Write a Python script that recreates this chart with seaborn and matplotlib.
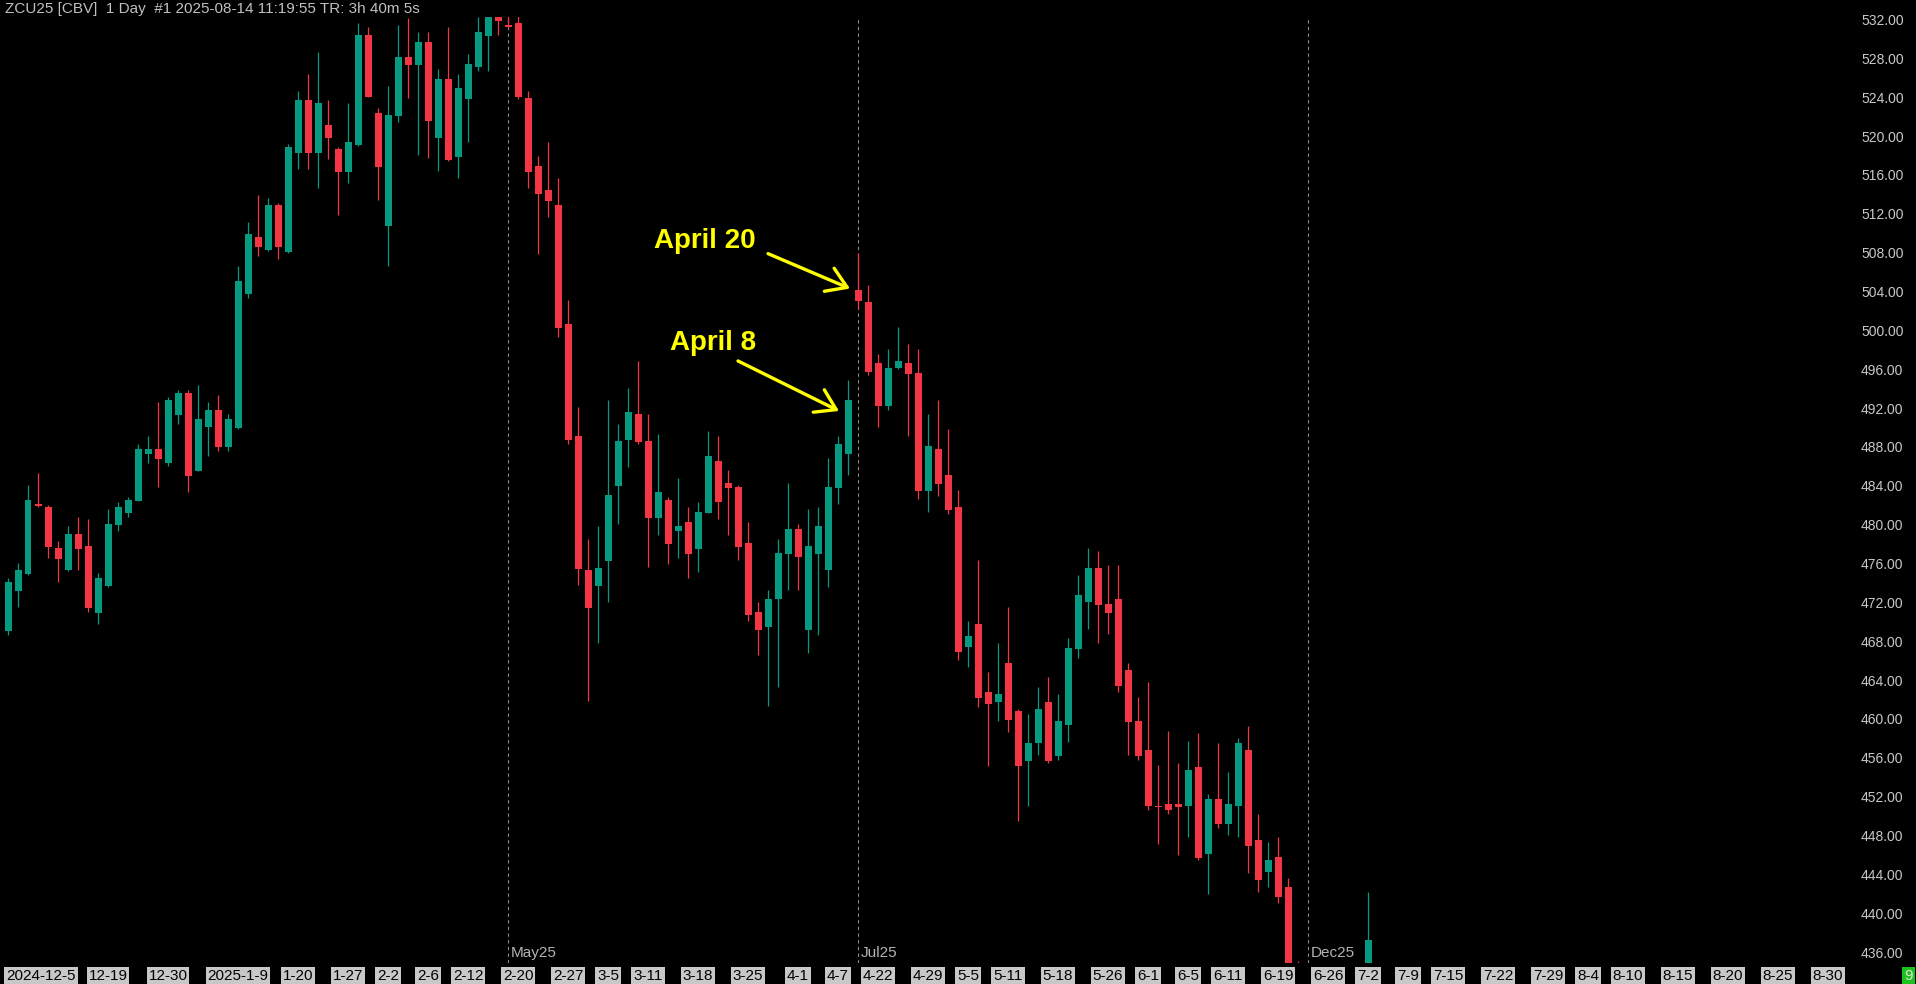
import numpy as np
import pandas as pd
import matplotlib
matplotlib.use('Agg')
import matplotlib.pyplot as plt
import matplotlib.transforms as mtransforms
import seaborn as sns

# daily candles ZCU25, one row per session (index 0 = 2024-12-5)
opens = [469.0, 473.2, 474.9, 482.1, 481.8, 477.6, 475.3, 479.0, 477.8, 470.9,
         473.7, 480.0, 481.2, 482.4, 487.3, 487.8, 486.3, 491.3, 493.5, 485.5,
         490.0, 491.8, 488.0, 489.95, 503.7, 509.6, 508.3, 512.9, 508.1, 518.3,
         523.7, 518.3, 521.1, 518.7, 516.3, 519.1, 530.4, 522.4, 510.75, 522.1,
         528.1, 527.3, 529.7, 519.8, 525.9, 517.85, 523.8, 527.1, 530.3, 532.5,
         531.4, 531.6, 523.9, 516.9, 514.45, 512.9, 500.7, 489.1, 475.3, 473.7,
         476.25, 484.0, 488.7, 491.4, 488.6, 480.7, 482.5, 479.3, 480.3, 477.5,
         481.2, 486.55, 484.3, 483.9, 478.1, 471.0, 469.5, 472.3, 477.0, 479.55,
         469.2, 477.0, 475.3, 483.8, 487.3, 504.15, 502.9, 496.65, 492.25, 496.1,
         496.65, 495.6, 483.5, 487.8, 485.1, 481.8, 467.4, 469.8, 462.8, 461.7,
         465.8, 460.8, 455.7, 457.5, 461.7, 456.2, 459.4, 467.2, 472.0, 475.55,
         471.8, 472.35, 465.0, 459.8, 456.8, 451.05, 451.25, 451.25, 451.0, 455.05,
         446.1, 451.8, 449.2, 451.0, 456.8, 447.5, 444.2, 445.8, 442.7, 432.0,
         430.0, 427.5, 429.0, 428.0, 430.5, 432.0, 433.5]
highs = [474.5, 476.0, 484.1, 485.3, 482.0, 478.3, 479.85, 480.8, 480.6, 475.0,
         481.6, 482.3, 482.8, 488.3, 489.1, 492.6, 493.1, 493.9, 493.9, 494.4,
         492.6, 493.35, 491.4, 506.6, 511.2, 513.9, 513.6, 513.1, 519.2, 524.65,
         526.4, 528.7, 523.7, 518.9, 523.4, 531.6, 531.2, 522.9, 525.2, 531.4,
         532.2, 530.7, 530.7, 526.9, 531.2, 526.4, 528.45, 532.3, 534.0, 533.0,
         532.5, 532.4, 524.65, 517.95, 519.4, 515.7, 503.1, 492.1, 478.5, 479.85,
         492.8, 490.4, 494.1, 496.85, 491.4, 489.3, 482.85, 484.8, 481.8, 482.3,
         489.6, 489.1, 485.6, 484.1, 480.3, 472.0, 473.3, 478.5, 484.3, 480.1,
         481.6, 481.8, 486.9, 489.1, 494.9, 508.0, 504.7, 497.6, 498.1, 500.3,
         498.6, 498.1, 491.4, 492.8, 489.85, 483.6, 470.1, 476.4, 464.8, 467.8,
         471.5, 461.0, 460.5, 463.3, 464.3, 462.6, 468.3, 474.8, 477.6, 477.3,
         475.85, 475.85, 465.8, 462.3, 463.8, 455.3, 458.8, 455.5, 457.7, 458.55,
         452.3, 457.5, 454.5, 458.0, 459.3, 450.2, 447.3, 447.8, 443.6, 435.1,
         433.0, 431.0, 432.5, 431.5, 434.0, 434.5, 442.2]
lows = [468.6, 471.55, 474.8, 481.8, 476.6, 474.1, 475.2, 475.3, 471.0, 469.8,
        473.6, 479.3, 480.8, 482.4, 486.3, 483.9, 486.05, 490.35, 483.4, 485.5,
        487.1, 487.6, 487.6, 489.85, 503.3, 507.65, 508.2, 507.3, 508.0, 516.6,
        516.6, 514.65, 517.65, 511.9, 515.2, 519.0, 524.0, 513.4, 506.6, 521.5,
        523.9, 518.1, 517.7, 516.4, 517.4, 515.7, 519.4, 526.7, 526.7, 530.4,
        531.1, 523.8, 514.65, 507.9, 511.7, 499.3, 488.3, 473.8, 461.8, 467.8,
        472.0, 480.06, 485.9, 488.3, 475.6, 478.9, 475.9, 476.6, 474.5, 475.1,
        481.2, 480.6, 478.9, 476.4, 470.1, 466.6, 461.3, 463.3, 473.3, 473.3,
        466.8, 468.6, 473.6, 482.1, 485.15, 502.2, 495.4, 490.1, 491.8, 496.0,
        489.15, 482.6, 481.3, 482.9, 481.1, 466.1, 465.3, 461.25, 455.1, 459.8,
        458.6, 449.5, 451.0, 456.3, 455.5, 455.8, 457.6, 466.3, 469.3, 467.85,
        468.7, 462.8, 456.3, 455.8, 450.6, 447.1, 450.25, 446.0, 447.8, 445.5,
        442.0, 448.8, 448.0, 447.8, 444.1, 442.2, 442.7, 441.0, 430.0, 428.5,
        426.0, 425.0, 426.5, 425.5, 428.0, 429.5, 432.5]
closes = [474.1, 475.3, 482.5, 481.9, 477.7, 476.5, 479.0, 477.5, 471.4, 474.5,
          480.1, 481.8, 482.5, 487.8, 487.8, 486.8, 492.8, 493.5, 485.0, 490.9,
          491.8, 488.0, 490.9, 505.1, 509.9, 508.6, 512.9, 508.6, 518.9, 523.7,
          518.3, 523.4, 519.8, 516.3, 519.4, 530.4, 524.0, 516.8, 522.2, 528.1,
          527.3, 529.7, 521.55, 525.9, 517.5, 524.96, 527.4, 530.7, 533.0, 531.85,
          531.2, 524.0, 516.3, 514.0, 513.3, 500.25, 488.7, 475.4, 471.45, 475.5,
          483.05, 488.6, 491.6, 488.5, 480.7, 483.4, 478.0, 479.9, 477.0, 481.3,
          487.1, 482.3, 483.8, 477.7, 470.7, 469.2, 472.35, 477.1, 479.55, 476.7,
          477.8, 479.9, 483.9, 488.3, 492.8, 503.05, 495.7, 492.25, 496.1, 496.8,
          495.55, 483.5, 488.1, 484.2, 481.5, 466.9, 468.5, 462.2, 461.5, 462.6,
          459.9, 455.2, 457.5, 461.0, 455.7, 459.8, 467.3, 472.8, 475.55, 471.76,
          470.9, 463.4, 459.7, 456.2, 451.0, 450.95, 450.65, 450.95, 454.7, 445.7,
          451.8, 449.2, 451.2, 457.5, 446.95, 443.45, 445.5, 441.7, 432.0, 430.0,
          427.5, 429.0, 428.0, 430.5, 432.0, 433.5, 437.2]

date_labels = ['2024-12-5', '12-19', '12-30', '2025-1-9', '1-20', '1-27', '2-2', '2-6',
               '2-12', '2-20', '2-27', '3-5', '3-11', '3-18', '3-25', '4-1', '4-7',
               '4-22', '4-29', '5-5', '5-11', '5-18', '5-26', '6-1', '6-5', '6-11',
               '6-19', '6-26', '7-2', '7-9', '7-15', '7-22', '7-29', '8-4', '8-10',
               '8-15', '8-20', '8-25', '8-30']
date_index = [3.3, 10, 16, 23, 29, 34, 38, 42, 46, 51, 56, 60, 64, 69, 74, 79, 83,
              87, 92, 96, 100, 105, 110, 114, 118, 122, 127, 132, 136, 140, 144, 149,
              154, 158, 162, 167, 172, 177, 182]

contract_names = ['May25', 'Jul25', 'Dec25']
contract_index = [50, 85, 130]

price_ticks = list(range(436, 533, 4))

df = pd.DataFrame({'o': opens, 'h': highs, 'l': lows, 'c': closes})
df['i'] = np.arange(len(df))
df['up'] = df['c'] >= df['o']
df['bottom'] = df[['o', 'c']].min(axis=1)
df['height'] = (df['c'] - df['o']).abs().clip(lower=0.12)

sns.set_theme(style='dark', rc={'axes.facecolor': 'black', 'figure.facecolor': 'black'})
plt.rcParams['font.family'] = ['Liberation Sans', 'DejaVu Sans']

GREEN = '#089981'
RED = '#f23645'

W, H = 1916, 984
fig = plt.figure(figsize=(W / 100, H / 100), dpi=100)
ax = fig.add_axes([0, 21 / H, 1850 / W, (963 - 17) / H])
ax.set_facecolor('black')

cols = np.where(df['up'], GREEN, RED)
ax.vlines(df['i'], df['l'], df['h'], colors=cols, lw=0.9, zorder=3)
ax.bar(df['i'], df['height'], bottom=df['bottom'], width=0.7, color=cols,
       linewidth=0, zorder=4)

ax.set_xlim(-0.8, 184.2)
ax.set_ylim(434.87, 532.26)

for s in ax.spines.values():
    s.set_visible(False)
ax.grid(False)
ax.set_xticks([])
ax.yaxis.tick_right()
ax.set_yticks(price_ticks)
ax.set_yticklabels([f'{v:.2f}' for v in price_ticks])
ax.tick_params(axis='y', length=0, pad=8, labelcolor='#c8c8c8', labelsize=10)

# contract roll lines
for name, idx in zip(contract_names, contract_index):
    ax.axvline(idx, color='#8c8c8c', lw=0.8, ls=(0, (3, 3)), zorder=2)
    ax.text(idx + 0.25, 435.9, name, color='#b4b4b4', fontsize=11,
            ha='left', va='center', zorder=5)

# date strip
trans = mtransforms.blended_transform_factory(ax.transData, fig.transFigure)
for lab, idx in zip(date_labels, date_index):
    ax.text(idx, 8 / H, lab, transform=trans, ha='center', va='center',
            fontsize=11, color='black', clip_on=False,
            bbox=dict(boxstyle='square,pad=0.12', fc='#c8c8c8', ec='none'))

fig.text(1913 / W, 8 / H, '9', ha='right', va='center', fontsize=11,
         color='#e0e0e0', bbox=dict(boxstyle='square,pad=0.15', fc='#1ec21e', ec='none'))

fig.text(5 / W, 1 - 9 / H, 'ZCU25 [CBV]  1 Day  #1 2025-08-14 11:19:55 TR: 3h 40m 5s',
         ha='left', va='center', fontsize=11, color='#c0c0c0')

# annotations
arrow = dict(arrowstyle='->,head_length=0.7,head_width=0.45', color='#ffff00',
             lw=2.4, mutation_scale=20, shrinkA=0, shrinkB=0)
ax.annotate('', xy=(84.2, 504.3), xytext=(76.0, 507.9), arrowprops=arrow, zorder=6)
ax.annotate('', xy=(83.1, 491.7), xytext=(73.0, 496.85), arrowprops=arrow, zorder=6)
ax.text(69.7, 509.2, 'April 20', color='#ffff00', fontsize=20, fontweight='bold',
        ha='center', va='center', zorder=6)
ax.text(70.5, 498.7, 'April 8', color='#ffff00', fontsize=20, fontweight='bold',
        ha='center', va='center', zorder=6)

fig.savefig('out.png', dpi=100, facecolor='black')
